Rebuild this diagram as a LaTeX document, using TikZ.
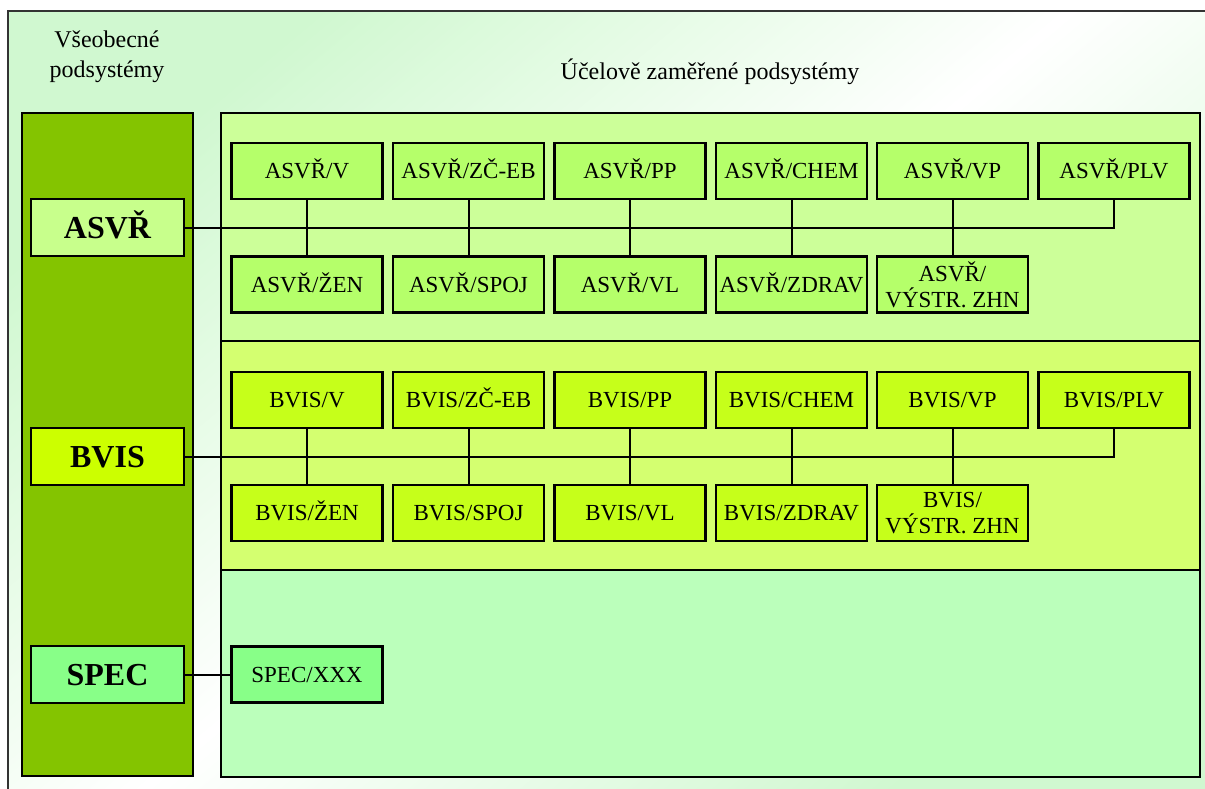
\documentclass[tikz,border=0pt]{standalone}
\usepackage{fontspec}
\setmainfont{Liberation Serif}
\definecolor{bgtint}{HTML}{D0F8D0}
\definecolor{leftcol}{HTML}{84C400}
\definecolor{asvrpanel}{HTML}{CCFF99}
\definecolor{asvrbox}{HTML}{B5FF6A}
\definecolor{asvrmain}{HTML}{C8FF8C}
\definecolor{bvispanel}{HTML}{D4FF70}
\definecolor{bvisbox}{HTML}{C6FF1A}
\definecolor{bvismain}{HTML}{CCFF00}
\definecolor{specpanel}{HTML}{BBFFBB}
\definecolor{specbox}{HTML}{88FF88}
\begin{document}
\begin{tikzpicture}[x=1pt,y=-1pt]
\tikzstyle{panel}=[draw,line width=2.5pt];
\tikzstyle{sub}=[draw,line width=2.5pt,minimum width=151pt,minimum height=56pt,inner sep=0pt,text height=15pt,text depth=0pt,font=\fontsize{23}{26}\selectfont];
\tikzstyle{subtwo}=[draw,line width=2.5pt,minimum width=151pt,minimum height=56pt,inner sep=0pt,align=center,font=\fontsize{23}{26}\selectfont];
\tikzstyle{main}=[draw,line width=2.5pt,minimum width=153pt,minimum height=57pt,inner sep=0pt,text height=21pt,text depth=0pt,font=\fontsize{32}{36}\selectfont\bfseries];
\tikzstyle{head}=[align=center,font=\fontsize{24}{30}\selectfont];
\tikzstyle{link}=[line width=2pt];
\useasboundingbox (0,0) rectangle (1205,789);
\shade [top color=bgtint,bottom color=bgtint,middle color=white,shading angle=40] (8,11) rectangle (1205,789);
\draw [line width=2pt,black!80] (1205,11) -- (8,11) -- (8,789);

\node [head] (gen) at (107,57) {Všeobecné\\podsystémy};
\node [head] (spc) at (710,72) {Účelově zaměřené podsystémy};

\draw [panel,fill=leftcol] (22,113) rectangle (193,776);
\draw [panel,fill=asvrpanel] (221,113) rectangle (1200,341);
\draw [panel,fill=bvispanel] (221,341) rectangle (1200,570);
\draw [panel,fill=specpanel] (221,570) rectangle (1200,777);

% ASVR
\node [main,fill=asvrmain] (asvr) at (107.5,227.5) {ASVŘ};
\node [sub,fill=asvrbox] (a1) at (307,171) {ASVŘ/V};
\node [sub,fill=asvrbox] (a2) at (468.5,171) {ASVŘ/ZČ-EB};
\node [sub,fill=asvrbox] (a3) at (630,171) {ASVŘ/PP};
\node [sub,fill=asvrbox] (a4) at (791.5,171) {ASVŘ/CHEM};
\node [sub,fill=asvrbox] (a5) at (952.5,171) {ASVŘ/VP};
\node [sub,fill=asvrbox] (a6) at (1114,171) {ASVŘ/PLV};
\node [sub,fill=asvrbox] (ab1) at (307,284.5) {ASVŘ/ŽEN};
\node [sub,fill=asvrbox] (ab2) at (468.5,284.5) {ASVŘ/SPOJ};
\node [sub,fill=asvrbox] (ab3) at (630,284.5) {ASVŘ/VL};
\node [sub,fill=asvrbox] (ab4) at (791.5,284.5) {ASVŘ/ZDRAV};
\node [subtwo,fill=asvrbox] (ab5) at (952.5,284.5) {ASVŘ/\\VÝSTR. ZHN};
\draw [link] (asvr) -| (a6);
\draw [link] (a1) -- (ab1);
\draw [link] (a2) -- (ab2);
\draw [link] (a3) -- (ab3);
\draw [link] (a4) -- (ab4);
\draw [link] (a5) -- (ab5);

% BVIS
\node [main,fill=bvismain] (bvis) at (107.5,456.5) {BVIS};
\node [sub,fill=bvisbox] (b1) at (307,400) {BVIS/V};
\node [sub,fill=bvisbox] (b2) at (468.5,400) {BVIS/ZČ-EB};
\node [sub,fill=bvisbox] (b3) at (630,400) {BVIS/PP};
\node [sub,fill=bvisbox] (b4) at (791.5,400) {BVIS/CHEM};
\node [sub,fill=bvisbox] (b5) at (952.5,400) {BVIS/VP};
\node [sub,fill=bvisbox] (b6) at (1114,400) {BVIS/PLV};
\node [sub,fill=bvisbox] (bb1) at (307,513) {BVIS/ŽEN};
\node [sub,fill=bvisbox] (bb2) at (468.5,513) {BVIS/SPOJ};
\node [sub,fill=bvisbox] (bb3) at (630,513) {BVIS/VL};
\node [sub,fill=bvisbox] (bb4) at (791.5,513) {BVIS/ZDRAV};
\node [subtwo,fill=bvisbox] (bb5) at (952.5,513) {BVIS/\\VÝSTR. ZHN};
\draw [link] (bvis) -| (b6);
\draw [link] (b1) -- (bb1);
\draw [link] (b2) -- (bb2);
\draw [link] (b3) -- (bb3);
\draw [link] (b4) -- (bb4);
\draw [link] (b5) -- (bb5);

% SPEC
\node [main,fill=specbox] (spec) at (107.5,674.5) {SPEC};
\node [sub,fill=specbox] (s1) at (307,674.5) {SPEC/XXX};
\draw [link] (spec) -- (s1);
\end{tikzpicture}
\end{document}
